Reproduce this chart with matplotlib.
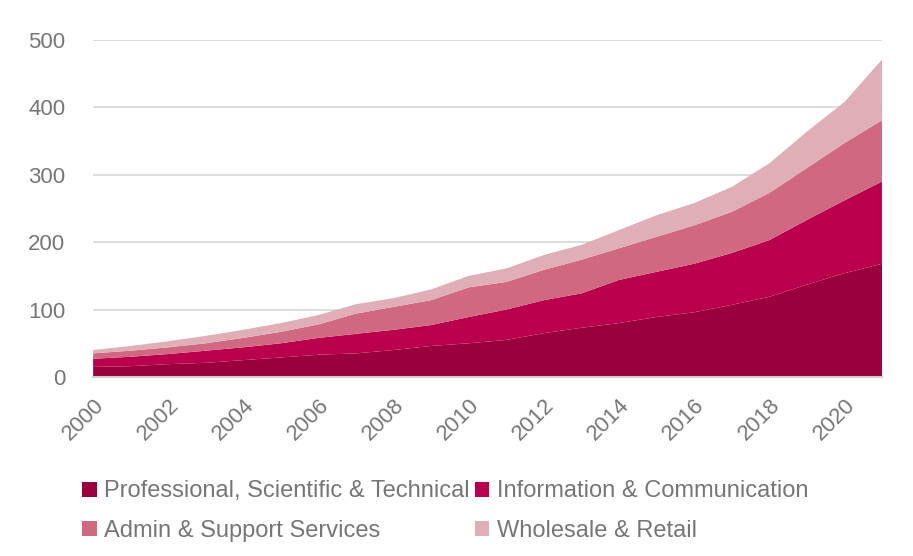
import matplotlib.pyplot as plt
from matplotlib.patches import Patch
import numpy as np

plt.rcParams['font.family'] = ['Liberation Sans', 'DejaVu Sans']

years = np.arange(2000, 2022)

professional = [15, 16, 19, 21, 25, 29, 33, 35, 40, 46, 50, 55, 65, 73, 80, 89, 96, 107, 119, 137, 154, 168]
information = [12, 14, 15, 18, 19, 21, 25, 29, 30, 31, 39, 45, 49, 51, 64, 67, 72, 77, 84, 96, 108, 122]
admin = [8, 9, 10, 11, 14, 17, 20, 30, 34, 37, 44, 41, 45, 50, 47, 52, 57, 61, 70, 77, 85, 91]
wholesale = [5, 7, 9, 11, 12, 13, 14, 14, 13, 16, 17, 20, 22, 22, 27, 32, 33, 37, 44, 54, 61, 90]

labels = ['Professional, Scientific & Technical', 'Information & Communication',
          'Admin & Support Services', 'Wholesale & Retail']
colors = ['#9b003e', '#ba004c', '#cf6880', '#e0aeb6']
grey = '#767676'

fig = plt.figure(figsize=(9.13, 5.56), dpi=100)
ax = fig.add_axes([0.102, 0.322, 0.864, 0.606])

ax.stackplot(years, professional, information, admin, wholesale,
             colors=colors, linewidth=0, zorder=2)

ax.set_xlim(2000, 2021)
ax.set_ylim(0, 500)
ax.set_yticks([0, 100, 200, 300, 400, 500])
ax.set_xticks(range(2000, 2021, 2))
ax.set_xticklabels([str(y) for y in range(2000, 2021, 2)],
                   rotation=45, ha='right', rotation_mode='anchor')

ax.grid(axis='y', color='#d9d9d9', linewidth=1.3, zorder=0)
for s in ['top', 'right', 'left']:
    ax.spines[s].set_visible(False)
ax.spines['bottom'].set_color('#d0d0d0')
ax.spines['bottom'].set_linewidth(1.5)
ax.tick_params(axis='both', length=0, labelsize=16, labelcolor=grey)
ax.tick_params(axis='y', pad=20)
ax.tick_params(axis='x', pad=13)

# legend reads row by row, so reorder for column-first filling
order = [0, 2, 1, 3]
handles = [Patch(facecolor=colors[i], edgecolor='none') for i in order]
fig.legend(handles, [labels[i] for i in order], loc='upper left',
           bbox_to_anchor=(0.08, 0.153),
           ncol=2, frameon=False, fontsize=17, labelcolor=grey,
           handlelength=0.6, handleheight=0.6, handletextpad=0.3,
           columnspacing=0.25, labelspacing=0.75, borderaxespad=0)

fig.savefig('out.png', dpi=100)
